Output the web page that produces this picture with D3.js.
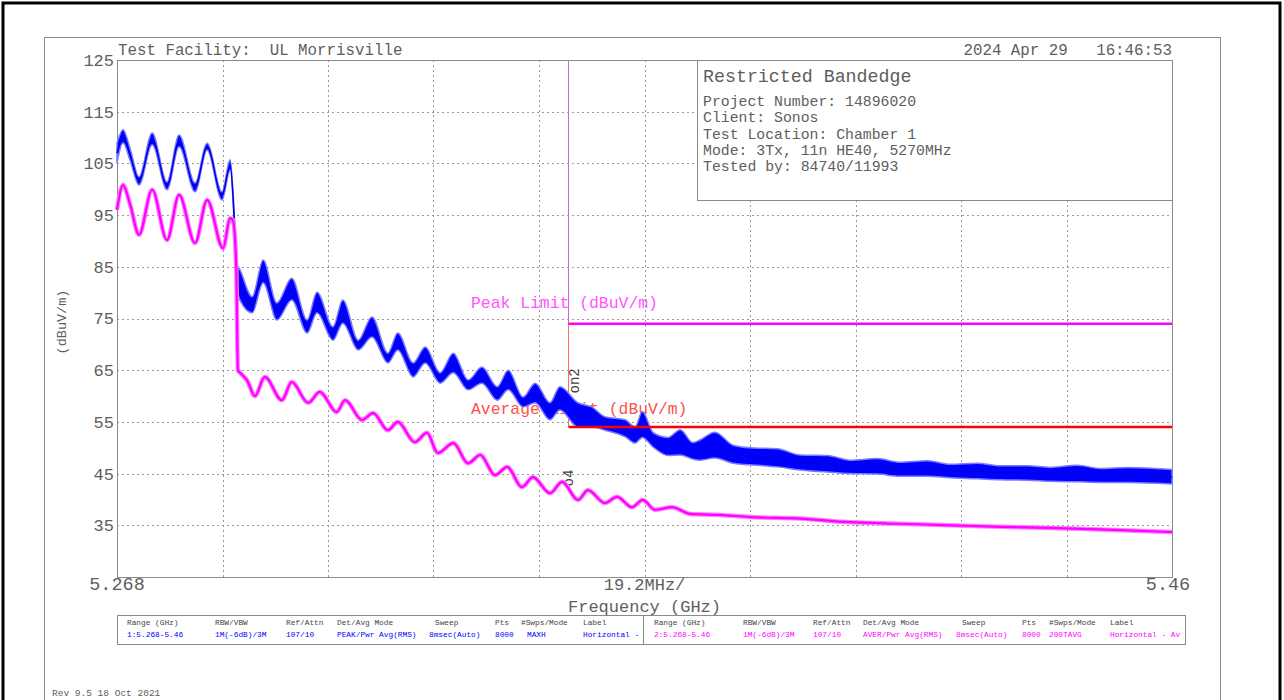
<!DOCTYPE html>
<html><head><meta charset="utf-8">
<script src="https://cdn.jsdelivr.net/npm/d3@7"></script>
<style>
html,body{margin:0;padding:0;background:#fff;}
svg text{font-family:"Liberation Mono","DejaVu Sans Mono",monospace;white-space:pre;}
</style></head>
<body>
<svg id="chart" width="1284" height="700"></svg>
<script>
// ---------- data ----------
const freqDomain = [5.268, 5.46];      // GHz
const levelDomain = [25, 125];         // dBuV/m
const yTickValues = [125, 115, 105, 95, 85, 75, 65, 55, 45, 35];
const xGridValues = [5.268, 5.2872, 5.3064, 5.3256, 5.3448, 5.364, 5.3832, 5.4024, 5.4216, 5.4408, 5.46];
const xLabels = ["5.268", "19.2MHz/", "5.46"];

// Peak (MAXH) trace: upper / lower envelope
const peakFreq = [5.2680,5.2691,5.2704,5.2720,5.2744,5.2771,5.2793,5.2822,5.2844,5.2871,5.2886,5.2893,5.2898,5.2904,5.2926,5.2946,5.2971,5.2998,5.3026,5.3044,5.3073,5.3091,5.3119,5.3144,5.3173,5.3191,5.3219,5.3241,5.3268,5.3292,5.3319,5.3344,5.3372,5.3392,5.3419,5.3441,5.3468,5.3486,5.3519,5.3544,5.3568,5.3605,5.3623,5.3636,5.3656,5.3683,5.3705,5.3728,5.3741,5.3768,5.3801,5.3832,5.3882,5.3923,5.3973,5.4014,5.4064,5.4105,5.4155,5.4196,5.4246,5.4287,5.4337,5.4378,5.4428,5.4469,5.4519,5.4600];
const peakHi = [108.9,111.5,107.8,102.4,110.9,101.4,110.5,101.2,108.9,99.5,105.7,96,85.7,84.4,79.2,86.3,78,82.8,74.7,80.1,73.4,78.6,70.8,75.3,68.3,72.2,66.4,69.5,64.5,68.3,63.1,65.6,61.8,65,59.8,62.5,58.7,61.8,58.7,57.9,56,55.4,54,57,52.9,52,53.5,51,51.5,53,50.5,50,49.8,48.6,48.5,47.6,47.9,47.2,47.5,46.8,47,46.5,46.5,46.2,46.6,46,46.2,45.8];
const peakLo = [105.1,109,105.5,100.8,108.6,99.9,108.2,99.5,107.6,97.9,103.7,94,81.1,78.5,76.1,81.9,74.7,78.6,72.2,76.1,70.8,74.1,68.9,71.4,66.4,68.9,63.7,66.4,62.5,64.5,61.2,62.5,59.2,61.2,57.9,58.7,55.4,57.3,54,54,53.4,52.1,50.9,52,50.1,48.5,48.6,47.8,47.6,48,47,46.7,46.3,45.7,45.3,45,44.9,44.5,44.5,44.2,44,43.8,43.7,43.5,43.4,43.3,43.3,43];

// Average (RMS, 200 traces) trace
const avgFreq = [5.2680,5.2691,5.2704,5.2720,5.2744,5.2771,5.2793,5.2822,5.2844,5.2873,5.2886,5.2891,5.2897,5.2900,5.2904,5.2917,5.2931,5.2949,5.2980,5.2998,5.3028,5.3049,5.3080,5.3095,5.3126,5.3146,5.3173,5.3191,5.3222,5.3244,5.3264,5.3292,5.3319,5.3341,5.3368,5.3390,5.3417,5.3437,5.3468,5.3490,5.3519,5.3537,5.3568,5.3590,5.3617,5.3637,5.3659,5.3690,5.3723,5.3778,5.3832,5.3923,5.4014,5.4105,5.4196,5.4287,5.4378,5.4469,5.4600];
const avgVal = [96,100.8,97,91.2,99.9,90.2,98.9,89.6,97.9,88.6,94.4,94,85,65,64.5,63,60,63.7,59.2,62.7,58.7,60.8,56.9,59.2,55.4,56.7,53.4,55,51.1,52.9,49,50.9,47,48.6,44.7,46.3,42.4,44.3,41.2,43.4,39.9,41.8,39.3,40.5,38.5,39.9,38,38.5,37.2,37,36.6,36.3,35.6,35.3,35,34.7,34.5,34.2,33.7];

// Limits
const limitStart = 5.35;
const peakLimit = 74;
const avgLimit = 54;

// Markers
const markerFreq = [5.3511, 5.3500];
const markerLevel = [60.5, 42.5];
const markerText = ["on2", "o4"];

// Header / info texts
const facilityText = "Test Facility:  UL Morrisville";
const dateText = "2024 Apr 29   16:46:53";
const infoTitle = "Restricted Bandedge";
const infoLines = ["Project Number: 14896020","Client: Sonos","Test Location: Chamber 1","Mode: 3Tx, 11n HE40, 5270MHz","Tested by: 84740/11993"];
const tableHead = ["Range (GHz)","RBW/VBW","Ref/Attn","Det/Avg Mode","Sweep","Pts","#Swps/Mode","Label"];
const tableRow1 = ["1:5.268-5.46","1M(-6dB)/3M","107/10","PEAK/Pwr Avg(RMS)","8msec(Auto)","8000","MAXH","Horizontal -"];
const tableRow2 = ["2:5.268-5.46","1M(-6dB)/3M","107/10","AVER/Pwr Avg(RMS)","8msec(Auto)","8000","200TAVG","Horizontal - Av"];

// ---------- layout ----------
const svg = d3.select("#chart");
const L = 117, R = 1172, T = 60, B = 577;
const x = d3.scaleLinear().domain(freqDomain).range([L, R]);
const y = d3.scaleLinear().domain(levelDomain).range([B, T]);
const gray = "#8a8a8a", textGray = "#5e5e5e";

// outer frames
svg.append("rect").attr("x",3).attr("y",3).attr("width",1277).attr("height",710)
  .attr("fill","none").attr("stroke","#000").attr("stroke-width",3);
svg.append("rect").attr("x",44.5).attr("y",37.5).attr("width",1176).attr("height",680)
  .attr("fill","none").attr("stroke",gray).attr("stroke-width",1);

// grid
const grid = svg.append("g");
grid.selectAll("line.v").data(xGridValues.slice(1,-1)).join("line")
  .attr("x1",d=>Math.round(x(d))+0.5).attr("x2",d=>Math.round(x(d))+0.5).attr("y1",T).attr("y2",B)
  .attr("stroke","#999").attr("stroke-dasharray","2,3");
grid.selectAll("line.h").data(yTickValues.slice(1)).join("line")
  .attr("x1",L).attr("x2",R).attr("y1",d=>Math.round(y(d))+0.5).attr("y2",d=>Math.round(y(d))+0.5)
  .attr("stroke","#999").attr("stroke-dasharray","2,3");
svg.append("rect").attr("x",L+0.5).attr("y",T+0.5).attr("width",R-L).attr("height",B-T)
  .attr("fill","none").attr("stroke",gray);

// y axis labels via d3 axis
const yAxis = d3.axisLeft(y).tickValues(yTickValues).tickSize(0).tickPadding(3).tickFormat(d3.format("d"));
const gy = svg.append("g").attr("transform",`translate(${L},0)`).call(yAxis);
gy.select(".domain").remove();
gy.selectAll("text").attr("font-size",17).attr("fill",textGray)
  .style("font-family","'Liberation Mono',monospace");

svg.append("text").attr("transform","translate(66,322) rotate(-90)").attr("text-anchor","middle")
  .attr("font-size",13.5).attr("fill",textGray).text("(dBuV/m)");

// x labels
const xLabPos = [x(freqDomain[0]), x(5.364), x(freqDomain[1]) - 4];
svg.selectAll("text.xl").data(xLabels).join("text")
  .attr("x",(d,i)=>xLabPos[i]).attr("y",590).attr("text-anchor","middle")
  .attr("font-size",(d,i)=> i===1 ? 17 : 18.5).attr("fill",textGray).text(d=>d);
svg.append("text").attr("x",x(5.364)).attr("y",612).attr("text-anchor","middle")
  .attr("font-size",17).attr("fill",textGray).text("Frequency (GHz)");

// header
svg.append("text").attr("x",118).attr("y",55).attr("font-size",15.8).attr("fill",textGray).text(facilityText);
svg.append("text").attr("x",R).attr("y",55).attr("text-anchor","end").attr("font-size",15.8).attr("fill",textGray).text(dateText);

// info box
svg.append("rect").attr("x",697.5).attr("y",T+0.5).attr("width",R-697).attr("height",140)
  .attr("fill","#fff").attr("stroke",gray);
svg.append("text").attr("x",703).attr("y",82).attr("font-size",18.3).attr("fill",textGray).text(infoTitle);
svg.selectAll("text.info").data(infoLines).join("text")
  .attr("x",703).attr("y",(d,i)=>106+i*16.3).attr("font-size",14.8).attr("fill",textGray).text(d=>d);

// limit labels
svg.append("text").attr("x",471).attr("y",308).attr("font-size",16.4).attr("fill","#ff55ff").text("Peak Limit (dBuV/m)");
svg.append("text").attr("x",471).attr("y",414).attr("font-size",16.4).attr("fill","#ff5050").text("Average Limit (dBuV/m)");

// limit verticals (thin)
const xl = Math.round(x(limitStart)) + 0.5;
svg.append("line").attr("x1",xl).attr("x2",xl).attr("y1",T).attr("y2",y(avgLimit))
  .attr("stroke","#ff6a6a").attr("stroke-width",1);
svg.append("line").attr("x1",xl).attr("x2",xl).attr("y1",T).attr("y2",y(peakLimit))
  .attr("stroke","#d860d8").attr("stroke-width",1);

// markers
svg.selectAll("text.mk").data(markerText).join("text")
  .attr("transform",(d,i)=>`translate(${x(markerFreq[i])+5},${y(markerLevel[i])}) rotate(-90)`)
  .attr("font-size",14).attr("fill","#444").text(d=>d);

// peak trace
const peakData = peakFreq.map((f,i)=>({f, hi:peakHi[i], lo:peakLo[i]}));
const area = d3.area().x(d=>x(d.f)).y0(d=>y(d.lo)).y1(d=>y(d.hi)).curve(d3.curveMonotoneX);
svg.append("path").datum(peakData).attr("d",area).attr("fill","#0000ff")
  .attr("stroke","#7b7bff").attr("stroke-width",1.5).attr("stroke-linejoin","round");
const mid = d3.line().x(d=>x(d.f)).y(d=>y((d.hi+d.lo)/2)).curve(d3.curveMonotoneX);
svg.append("path").datum(peakData).attr("d",mid).attr("fill","none").attr("stroke","#0000e0").attr("stroke-width",1.5);

// average trace
const avgData = avgFreq.map((f,i)=>({f, v:avgVal[i]}));
const line = d3.line().x(d=>x(d.f)).y(d=>y(d.v)).curve(d3.curveMonotoneX);
svg.append("path").datum(avgData).attr("d",line).attr("fill","none")
  .attr("stroke","#ff7dff").attr("stroke-width",4.5).attr("stroke-linejoin","round");
svg.append("path").datum(avgData).attr("d",line).attr("fill","none")
  .attr("stroke","#ff00ff").attr("stroke-width",2.2).attr("stroke-linejoin","round");

// limit horizontals
svg.append("line").attr("x1",xl).attr("x2",R).attr("y1",y(peakLimit)).attr("y2",y(peakLimit))
  .attr("stroke","#ff00ff").attr("stroke-width",2.5);
svg.append("line").attr("x1",xl).attr("x2",R).attr("y1",y(avgLimit)).attr("y2",y(avgLimit))
  .attr("stroke","#ff0000").attr("stroke-width",2.5);

// table
const tb = svg.append("g");
tb.append("rect").attr("x",117.5).attr("y",615.5).attr("width",1068).attr("height",29)
  .attr("fill","#fff").attr("stroke",gray);
tb.append("line").attr("x1",643.5).attr("x2",643.5).attr("y1",615).attr("y2",645).attr("stroke",gray);
const colL = [127,215,286,337,435,495,521,583];
const colLv = [127,215,286,337,429,495,527,583];
const colR = [654,743,813,863,962,1022,1049,1110];
const colRv = [654,743,813,863,956,1022,1049,1110];
svg.append("clipPath").attr("id","cl").append("rect").attr("x",118).attr("y",615).attr("width",524).attr("height",30);
svg.append("clipPath").attr("id","cr").append("rect").attr("x",644).attr("y",615).attr("width",540).attr("height",30);
const gL = tb.append("g").attr("clip-path","url(#cl)");
const gR = tb.append("g").attr("clip-path","url(#cr)");
function row(g, data, xs, yy, color){
  g.selectAll(null).data(data).join("text").attr("x",(d,i)=>xs[i]).attr("y",yy)
    .attr("font-size",7.8).attr("fill",color).text(d=>d);
}
row(gL, tableHead, colL, 625, "#444");
row(gL, tableRow1, colLv, 637, "#0000ff");
row(gR, tableHead, colR, 625, "#444");
row(gR, tableRow2, colRv, 637, "#ff00ff");

svg.append("text").attr("x",52).attr("y",696).attr("font-size",9.5).attr("fill",textGray).text("Rev 9.5 18 Oct 2021");
</script>
</body></html>
